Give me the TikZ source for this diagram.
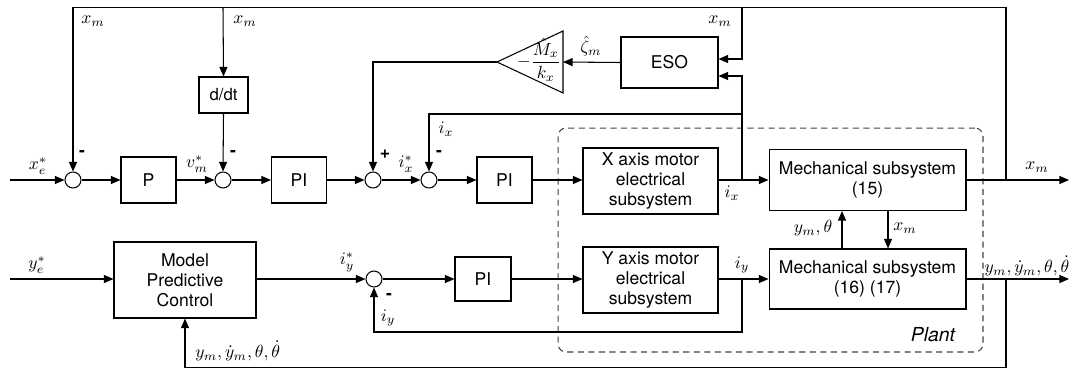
\documentclass[tikz,border=0pt]{standalone}
\usepackage{fontspec}
\setmainfont{TeX Gyre Heros}
\usetikzlibrary{arrows.meta}
\begin{document}
\begin{tikzpicture}[x=0.02cm,y=-0.02cm,line width=0.6pt,
  >={Triangle[length=5.5pt,width=4.6pt]},
  every node/.style={font=\fontsize{10}{11.5}\selectfont},
  blk/.style 2 args={draw,minimum width=#1,minimum height=#2,inner sep=1pt,align=center},
  sumn/.style={draw,circle,minimum size=0.32cm,inner sep=0pt},
  lab/.style={inner sep=1pt},
  sgn/.style={inner sep=0pt,font=\fontsize{10}{12}\selectfont\bfseries}]
\useasboundingbox (0,0) rectangle (1070,369);

% plant frame
\node[draw=black!75,dashed,dash pattern=on 3.5pt off 2.5pt,rounded corners=0.16cm,
      minimum width=8.5cm,minimum height=4.48cm] (plant) at (770.5,240) {};
\node[lab,font=\fontsize{11}{13}\selectfont\itshape] (plantlab) at (933,335) {Plant};

% top row
\node[sumn] (s1) at (73,180) {};
\node[blk={1.1cm}{0.92cm}] (P) at (148.5,180) {P};
\node[sumn] (s2) at (223,180) {};
\node[blk={0.98cm}{0.72cm},font=\fontsize{9.5}{11}\selectfont] (ddt) at (223.5,95) {d/dt};
\node[blk={1.1cm}{0.92cm}] (PI1) at (299,180) {PI};
\node[sumn] (s3) at (373,180) {};
\node[sumn] (s4) at (429,180) {};
\node[blk={1.1cm}{0.92cm}] (PI2) at (504.5,180) {PI};
\node[blk={2.7cm}{1.32cm}] (Xm) at (650.5,181) {X axis motor\\electrical\\subsystem};
\node[blk={3.94cm}{1.22cm}] (M1) at (867.5,180) {Mechanical subsystem\\(15)};
\node[blk={1.94cm}{1.02cm}] (ESO) at (669.5,62.5) {ESO};

% gain triangle
\coordinate (gtip) at (497,62);
\coordinate (gin) at (563,62);
\draw (563,31) -- (563,93) -- (gtip) -- cycle;
\node[inner sep=0pt] (gainlab) at (539,60) {$\displaystyle -\frac{\hat{M}_x}{k_x}$};

% bottom row
\node[blk={2.84cm}{1.52cm}] (MPC) at (185,280) {Model\\Predictive\\Control};
\node[sumn] (s5) at (374,279) {};
\node[blk={1.12cm}{0.88cm}] (PI3) at (483,279) {PI};
\node[blk={2.7cm}{1.32cm}] (Ym) at (650.5,280) {Y axis motor\\electrical\\subsystem};
\node[blk={3.94cm}{1.2cm}] (M2) at (867.5,279) {Mechanical subsystem\\(16) (17)};

% coordinates
\coordinate (xin) at (10,180);
\coordinate (yin) at (10,279);
\coordinate (xj) at (1006,180);
\coordinate (tr) at (1006,7.5);
\coordinate (tl) at (73,7.5);
\coordinate (t2) at (223,7.5);
\coordinate (t3) at (742,7.5);
\coordinate (xout) at (1069,180);
\coordinate (yout) at (1069,279);
\coordinate (ixj) at (742,180);
\coordinate (ixb) at (742,114);
\coordinate (iyj) at (742,279);
\coordinate (iyb) at (742,332);
\coordinate (yj) at (1006,279);
\coordinate (yb) at (1006,367.5);

% top row connections
\draw[->] (xin) -- (s1);
\draw[->] (s1) -- (P);
\draw[->] (P) -- (s2);
\draw[->] (s2) -- (PI1);
\draw[->] (PI1) -- (s3);
\draw[->] (s3) -- (s4);
\draw[->] (s4) -- (PI2);
\draw[->] (PI2) -- (Xm.west |- PI2.east);
\draw[->] (Xm.east |- ixj) -- (M1.west |- ixj);
\draw[->] (M1.east) -- (xout);
\draw[->] (xj) -- (tr) -- (tl) -- (s1.north);
\draw[->] (t2) -- (ddt.north);
\draw[->] (ddt.south) -- (s2.north);
\draw[->] (t3) |- (ESO.east |- 0,59);
\draw[->] (ixj) |- (ESO.east |- 0,76);
\draw[->] (ixb) -| (s4.north);
\draw[->] (ESO.west) -- (gin);
\draw[->] (gtip) -| (s3.north);
\draw[->] (M2.north -| 842,0) -- (M1.south -| 842,0);
\draw[->] (M1.south -| 888,0) -- (M2.north -| 888,0);

% bottom row connections
\draw[->] (yin) -- (MPC.west |- yin);
\draw[->] (MPC.east |- s5) -- (s5);
\draw[->] (s5) -- (PI3);
\draw[->] (PI3) -- (Ym.west |- PI3);
\draw[->] (Ym.east |- iyj) -- (M2.west |- iyj);
\draw[->] (M2.east |- yj) -- (yout);
\draw[->] (iyj) -- (iyb) -| (s5.south);
\draw[->] (yj) -- (yb) -| (MPC.south);

% labels
\node[lab] (l1) at (38,166) {$x_e^*$};
\node[lab] (l2) at (93,21) {$x_m$};
\node[lab] (l3) at (245,21) {$x_m$};
\node[lab] (l4) at (720,21) {$x_m$};
\node[sgn] (m1) at (82,153) {-};
\node[sgn] (m2) at (233,153) {-};
\node[sgn] (m3) at (439,153) {-};
\node[sgn] (m4) at (389,296) {-};
\node[sgn] (p1) at (385,154) {+};
\node[lab] (l5) at (197,164) {$v_m^*$};
\node[lab] (l6) at (406,164) {$i_x^*$};
\node[lab] (l7) at (446,129) {$i_x$};
\node[lab] (l8) at (732,193) {$i_x$};
\node[lab] (l9) at (591,46) {$\hat{\zeta}_m$};
\node[lab] (l10) at (1037,167) {$x_m$};
\node[lab] (l11) at (813,228) {$y_m,\theta$};
\node[lab] (l12) at (905,228) {$x_m$};
\node[lab] (l13) at (37,265) {$y_e^*$};
\node[lab] (l14) at (347,262) {$i_y^*$};
\node[lab] (l15) at (388,318) {$i_y$};
\node[lab] (l16) at (742,265) {$i_y$};
\node[lab] (l17) at (1027,266) {$y_m,\dot{y}_m,\theta,\dot{\theta}$};
\node[lab,anchor=west] (l18) at (193,351) {$y_m,\dot{y}_m,\theta,\dot{\theta}$};
\end{tikzpicture}
\end{document}
